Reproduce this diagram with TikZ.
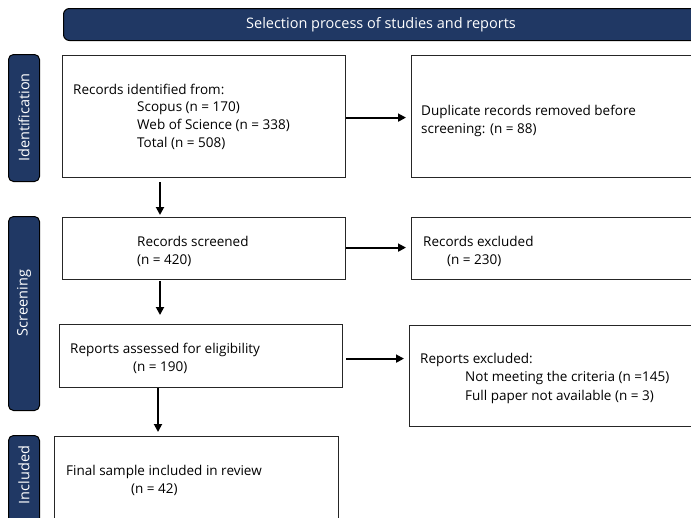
\documentclass[tikz,border=0pt]{standalone}
\usepackage{fontspec}
\setmainfont{Open Sans}
\usetikzlibrary{arrows.meta,calc}
\definecolor{navy}{RGB}{32,56,100}
\begin{document}
\begin{tikzpicture}[x=1pt,y=-1pt,
  box/.style={draw=black!85,line width=1.2pt,inner sep=0pt,anchor=north west},
  side/.style={draw=black,fill=navy,rounded corners=5pt,line width=1pt,inner sep=0pt,anchor=north west},
  sidetxt/.style={text=white,rotate=90,inner sep=0pt,font=\fontsize{14.5}{16}\selectfont},
  txt/.style={anchor=base west,inner sep=0pt,font=\fontsize{13.5}{16}\selectfont},
  arr/.style={-{Triangle[length=8pt,width=8pt]},line width=1.8pt}]
\useasboundingbox (0,0) rectangle (691,517);
\clip (0,0) rectangle (691,517);
% banner
\node[side,minimum width=634pt,minimum height=32pt,rounded corners=6pt] (ban) at (63,8) {};
\node[text=white,inner sep=0pt,anchor=base,font=\fontsize{14.5}{16}\selectfont] (bant) at (381,28.5) {Selection process of studies and reports};
% side labels
\node[side,minimum width=31pt,minimum height=127pt] (s1) at (8,54) {};
\node[side,minimum width=31pt,minimum height=194pt] (s2) at (8,216) {};
\node[side,minimum width=31pt,minimum height=130pt] (s3) at (8,435) {};
\node[sidetxt] (s1t) at (24,117.5) {Identification};
\node[sidetxt] (s2t) at (24,303) {Screening};
\node[sidetxt] (s3t) at (24,475) {Included};
% boxes
\node[box,minimum width=283pt,minimum height=122pt] (b1) at (62,55) {};
\node[box,minimum width=320pt,minimum height=122pt] (b2) at (411,55) {};
\node[box,minimum width=283pt,minimum height=62pt] (b3) at (62,217) {};
\node[box,minimum width=320pt,minimum height=62pt] (b4) at (411,217) {};
\node[box,minimum width=283pt,minimum height=63pt] (b5) at (59,324) {};
\node[box,minimum width=320pt,minimum height=101pt] (b6) at (409,325) {};
\node[box,minimum width=284pt,minimum height=124pt] (b7) at (54,436) {};
% texts
\node[txt] (t1a) at (73,94) {Records identified from:};
\node[txt] (t1b) at (137,111.5) {Scopus (n = 170)};
\node[txt] (t1c) at (137,129) {Web of Science (n = 338)};
\node[txt] (t1d) at (137,147) {Total (n = 508)};
\node[txt] (t2a) at (421,115) {Duplicate records removed before};
\node[txt] (t2b) at (421,133) {screening: (n = 88)};
\node[txt] (t3a) at (137,246.5) {Records screened};
\node[txt] (t3b) at (137,264.5) {(n = 420)};
\node[txt] (t4a) at (423,246) {Records excluded};
\node[txt] (t4b) at (447,264) {(n = 230)};
\node[txt] (t5a) at (70,353) {Reports assessed for eligibility};
\node[txt] (t5b) at (133,371) {(n = 190)};
\node[txt] (t6a) at (420,363) {Reports excluded:};
\node[txt] (t6b) at (465,381.5) {Not meeting the criteria (n =145)};
\node[txt] (t6c) at (465,400) {Full paper not available (n = 3)};
\node[txt] (t7a) at (66,475) {Final sample included in review};
\node[txt] (t7b) at (131,493.5) {(n = 42)};
% arrows
\coordinate (v1) at (160,0);
\coordinate (v3) at (158,0);
\draw[arr] ($(b1.east)+(0,1)$) -- ($(b2.west)+(-5,1)$);
\draw[arr] ($(b3.east)+(0,-1)$) -- ($(b4.west)+(-5,-1)$);
\draw[arr] ($(b5.east)+(3,2.5)$) -- ($(b5.east -| b6.west)+(-5,2.5)$);
\draw[arr] ($(b1.south -| v1)+(0,4)$) -- ($(b3.north -| v1)+(0,-2)$);
\draw[arr] ($(b3.south -| v1)+(0,1)$) -- ($(b5.north -| v1)+(0,-9)$);
\draw[arr] ($(b5.south -| v3)+(0,0)$) -- ($(b7.north -| v3)+(0,-4)$);
\end{tikzpicture}
\end{document}
